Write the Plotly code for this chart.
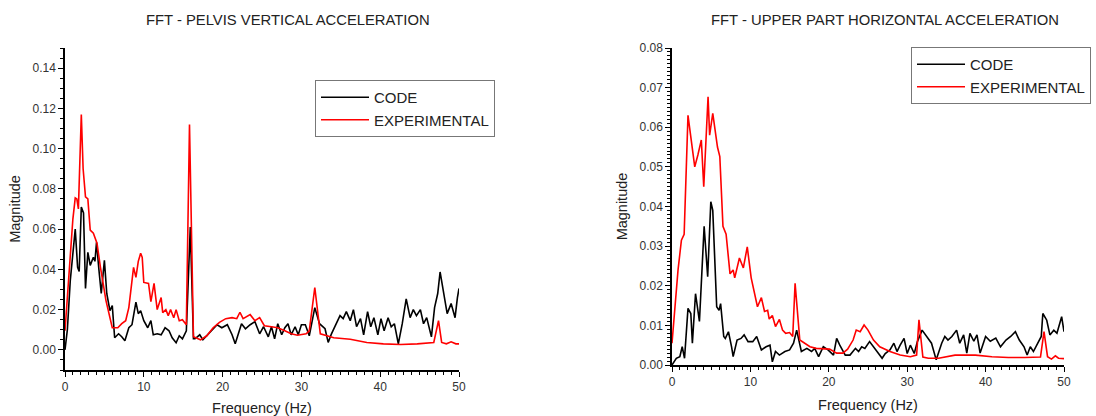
import plotly.graph_objects as go

# ---------------- data ----------------
pelvis_code_f = [0, 0.3, 0.67, 1.0, 1.3, 1.6, 1.8, 2.07, 2.35, 2.6,
                 2.9, 3.2, 3.6, 3.8, 4.0, 4.3, 4.6, 5.0, 5.3, 5.7,
                 6.0, 6.3, 6.8, 7.2, 7.6, 8.1, 8.5, 9.0, 9.3, 9.6,
                 10.0, 10.5, 10.9, 11.2, 11.7, 12.2, 12.7, 13.2, 13.6, 14.1,
                 14.5, 14.9, 15.4, 15.9, 16.3, 16.5, 17.1, 17.5, 18.1, 18.7,
                 19.3, 19.9, 20.6, 21.2, 21.6, 22.0, 22.4, 22.9, 23.5, 24.1,
                 24.7, 25.2, 25.8, 26.2, 26.6, 27.0, 27.5, 27.9, 28.3, 28.7,
                 29.2, 29.6, 30.0, 30.5, 31.0, 31.7, 32.3, 33.0, 33.4, 33.8,
                 34.9, 35.3, 35.7, 36.2, 36.6, 37.0, 37.5, 37.9, 38.4, 38.8,
                 39.2, 39.7, 40.1, 40.5, 41.0, 41.4, 41.8, 42.3, 42.8, 43.3,
                 43.8, 44.2, 44.6, 45.1, 45.5, 45.9, 46.5, 46.9, 47.3, 47.6,
                 48.1, 48.5, 49.0, 49.5, 49.8, 50.0]
pelvis_code_v = [0.0, 0.01, 0.0345, 0.05, 0.06, 0.041, 0.039, 0.071, 0.068, 0.0305,
                 0.0485, 0.042, 0.046, 0.044, 0.0535, 0.04, 0.028, 0.0445, 0.028, 0.0195,
                 0.022, 0.006, 0.008, 0.0065, 0.0045, 0.011, 0.0125, 0.0237, 0.018, 0.0195,
                 0.0145, 0.011, 0.0145, 0.0075, 0.008, 0.0075, 0.011, 0.0095, 0.006, 0.0035,
                 0.007, 0.0055, 0.0095, 0.061, 0.0055, 0.0055, 0.0075, 0.005, 0.0075, 0.01,
                 0.0125, 0.011, 0.0125, 0.0075, 0.003, 0.008, 0.013, 0.0105, 0.0125, 0.014,
                 0.008, 0.0115, 0.0065, 0.0115, 0.0055, 0.013, 0.0075, 0.011, 0.013, 0.0075,
                 0.0115, 0.0075, 0.0125, 0.0125, 0.007, 0.021, 0.013, 0.0105, 0.0037, 0.0078,
                 0.017, 0.0155, 0.019, 0.0145, 0.02, 0.0115, 0.0155, 0.0075, 0.019, 0.0115,
                 0.016, 0.0075, 0.0155, 0.0095, 0.016, 0.0115, 0.013, 0.003, 0.013, 0.0253,
                 0.016, 0.02, 0.017, 0.02, 0.013, 0.016, 0.0065, 0.021, 0.028, 0.0387,
                 0.028, 0.018, 0.023, 0.016, 0.026, 0.0305]

pelvis_exp_f = [0, 0.6, 1.0, 1.3, 1.5, 1.7, 2.07, 2.3, 2.6, 2.9,
                3.2, 3.6, 4.06, 4.5, 5.2, 6.0, 6.7, 7.2, 7.7, 8.1,
                8.4, 8.7, 9.0, 9.3, 9.6, 9.8, 10.0, 10.6, 10.9, 11.3,
                11.7, 12.2, 12.4, 12.8, 13.1, 13.4, 13.8, 14.1, 14.5, 14.9,
                15.4, 15.8, 16.3, 17.2, 18.0, 18.8, 19.6, 20.4, 21.2, 21.8,
                22.2, 22.6, 23.5, 24.1, 24.7, 25.3, 26.2, 27.0, 27.9, 28.7,
                29.5, 30.6, 31.0, 31.7, 32.4, 34.1, 36.2, 38.3, 40.4, 42.6,
                44.7, 46.8, 47.4, 47.8, 48.4, 49.0, 49.6, 50.0]
pelvis_exp_v = [0.0095, 0.045, 0.065, 0.0755, 0.075, 0.07, 0.117, 0.09, 0.076, 0.075,
                0.0595, 0.058, 0.053, 0.041, 0.0245, 0.011, 0.011, 0.013, 0.0145, 0.021,
                0.03, 0.041, 0.036, 0.044, 0.048, 0.046, 0.0335, 0.033, 0.024, 0.033,
                0.020, 0.026, 0.0185, 0.02, 0.017, 0.02, 0.016, 0.02, 0.0145, 0.015,
                0.0125, 0.112, 0.0065, 0.005, 0.007, 0.011, 0.0137, 0.0155, 0.016, 0.0155,
                0.0187, 0.0155, 0.0175, 0.0145, 0.016, 0.012, 0.0115, 0.011, 0.0095, 0.008,
                0.0073, 0.008, 0.0095, 0.031, 0.008, 0.006, 0.0053, 0.0037, 0.003, 0.0027,
                0.003, 0.0037, 0.0145, 0.0037, 0.003, 0.004, 0.003, 0.003]

upper_code_f = [0, 0.55, 1.0, 1.3, 1.6, 2.04, 2.4, 2.6, 3.0, 3.5,
                4.1, 4.55, 4.95, 5.2, 5.7, 6.0, 6.2, 6.6, 6.8, 7.2,
                7.6, 7.8, 8.3, 8.8, 9.2, 9.7, 10.3, 10.8, 11.4, 12.0,
                12.5, 12.8, 13.2, 13.7, 14.4, 15.0, 15.5, 15.9, 16.5, 17.2,
                17.8, 18.2, 18.7, 19.3, 19.9, 20.6, 21.0, 21.4, 22.1, 22.7,
                23.4, 23.8, 24.2, 24.6, 25.2, 25.7, 26.4, 26.8, 27.2, 27.8,
                28.3, 28.7, 29.1, 29.6, 30.0, 30.4, 30.9, 31.3, 31.9, 32.5,
                33.1, 33.7, 34.4, 34.8, 35.2, 35.7, 36.3, 36.7, 37.2, 37.6,
                38.0, 38.5, 38.9, 39.3, 40.0, 40.6, 41.3, 41.9, 42.6, 43.2,
                43.8, 44.3, 44.9, 45.3, 45.7, 46.1, 46.7, 47.1, 47.3, 47.8,
                48.2, 48.7, 49.1, 49.7, 50.0]
upper_code_v = [0.0, 0.0017, 0.0021, 0.0046, 0.0017, 0.0143, 0.013, 0.0055, 0.018, 0.011,
                0.035, 0.0223, 0.0412, 0.039, 0.0147, 0.0138, 0.0155, 0.0072, 0.0067, 0.0084,
                0.0046, 0.0021, 0.0063, 0.0067, 0.0076, 0.0059, 0.0059, 0.0072, 0.0038, 0.0046,
                0.005, 0.0008, 0.0034, 0.0025, 0.0034, 0.0038, 0.0055, 0.0088, 0.0034, 0.0042,
                0.0034, 0.0042, 0.0021, 0.0046, 0.0038, 0.0025, 0.0067, 0.005, 0.0025, 0.0025,
                0.0042, 0.0034, 0.0046, 0.0042, 0.0059, 0.0046, 0.0029, 0.0017, 0.0029, 0.0038,
                0.0055, 0.0034, 0.005, 0.0067, 0.0029, 0.005, 0.0029, 0.0059, 0.0088, 0.0072,
                0.0055, 0.0013, 0.0055, 0.0072, 0.0063, 0.0072, 0.0088, 0.0055, 0.0076, 0.003,
                0.008, 0.006, 0.0076, 0.003, 0.0072, 0.006, 0.0068, 0.0046, 0.0063, 0.0072,
                0.0084, 0.0063, 0.0046, 0.0025, 0.0046, 0.0034, 0.0055, 0.0072, 0.013, 0.0113,
                0.0076, 0.0088, 0.008, 0.0122, 0.0084]

upper_exp_f = [0, 0.77, 1.2, 1.55, 2.04, 2.7, 2.9, 3.3, 3.74, 4.05,
               4.6, 4.8, 5.2, 5.8, 6.1, 6.5, 6.9, 7.4, 7.8, 8.0,
               8.6, 9.1, 9.6, 10.1, 10.5, 10.9, 11.4, 11.8, 12.2, 12.4,
               12.8, 13.2, 13.7, 14.1, 14.5, 15.0, 15.4, 15.7, 16.3, 17.6,
               18.4, 19.3, 20.1, 21.0, 21.8, 22.4, 23.1, 23.5, 24.0, 24.5,
               25.0, 25.7, 26.5, 27.8, 29.1, 30.4, 31.2, 31.5, 32.0, 32.7,
               34.0, 36.1, 38.7, 40.8, 42.9, 45.0, 47.0, 47.45, 47.9, 48.4,
               48.9, 49.3, 50.0]
upper_exp_v = [0.0055, 0.024, 0.0315, 0.033, 0.063, 0.052, 0.050, 0.053, 0.0568, 0.045,
               0.0677, 0.058, 0.0635, 0.055, 0.0526, 0.035, 0.033, 0.023, 0.024, 0.022,
               0.027, 0.0245, 0.0298, 0.022, 0.018, 0.0147, 0.017, 0.0135, 0.0138, 0.0116,
               0.0125, 0.0097, 0.0115, 0.0088, 0.008, 0.0082, 0.0072, 0.0206, 0.0063, 0.0046,
               0.0042, 0.004, 0.004, 0.003, 0.003, 0.004, 0.0063, 0.0088, 0.0084, 0.0101,
               0.0088, 0.0063, 0.0046, 0.0034, 0.0025, 0.0021, 0.0025, 0.0114, 0.002, 0.0017,
               0.0017, 0.0025, 0.0025, 0.0021, 0.0019, 0.0019, 0.002, 0.0084, 0.0021, 0.0015,
               0.0023, 0.0017, 0.0016]

titles = ["FFT - PELVIS VERTICAL ACCELERATION", "FFT - UPPER PART HORIZONTAL ACCELERATION"]
series_names = ["CODE", "EXPERIMENTAL"]
x_title = "Frequency (Hz)"
y_title = "Magnitude"

# ---------------- figure ----------------
W, H = 1096, 416
FONT = "Liberation Sans, Arial, sans-serif"
TXT = "#222222"

fig = go.Figure()
fig.add_trace(go.Scatter(x=pelvis_code_f, y=pelvis_code_v, name=series_names[0], mode="lines",
                         line=dict(color="#000000", width=1.6), xaxis="x", yaxis="y", legend="legend"))
fig.add_trace(go.Scatter(x=pelvis_exp_f, y=pelvis_exp_v, name=series_names[1], mode="lines",
                         line=dict(color="#ff0000", width=1.6), xaxis="x", yaxis="y", legend="legend"))
fig.add_trace(go.Scatter(x=upper_code_f, y=upper_code_v, name=series_names[0], mode="lines",
                         line=dict(color="#000000", width=1.6), xaxis="x2", yaxis="y2", legend="legend2"))
fig.add_trace(go.Scatter(x=upper_exp_f, y=upper_exp_v, name=series_names[1], mode="lines",
                         line=dict(color="#ff0000", width=1.6), xaxis="x2", yaxis="y2", legend="legend2"))


def px_x(p):
    return p / W


def px_y(p):
    return 1 - p / H


axis_common = dict(showline=True, linecolor="#000000", linewidth=1.5, mirror=False,
                   ticks="outside", ticklen=5, tickwidth=1.3, tickcolor="#000000",
                   showgrid=False, zeroline=False, automargin=False,
                   tickfont=dict(family=FONT, size=12, color="#333333"),
                   title_font=dict(family=FONT, size=14.5, color=TXT))

legend_common = dict(xanchor="left", yanchor="top",
                     bordercolor="#777777", borderwidth=1, bgcolor="white",
                     font=dict(family=FONT, size=15, color=TXT), tracegroupgap=0,
                     itemwidth=48)

fig.update_layout(
    width=W, height=H, autosize=False,
    margin=dict(l=0, r=0, t=0, b=0, autoexpand=False),
    paper_bgcolor="white", plot_bgcolor="white",
    font=dict(family=FONT, color=TXT),
    xaxis=dict(domain=[px_x(65), px_x(459)], anchor="y", range=[0, 50], dtick=10, tick0=0,
               minor=dict(dtick=1, ticks="outside", ticklen=3, tickcolor="#000000", showgrid=False),
               title=dict(text=x_title, standoff=12), **axis_common),
    yaxis=dict(domain=[px_y(370), px_y(48)], anchor="x", range=[-0.01, 0.15], dtick=0.02, tick0=0,
               tickformat=".2f",
               minor=dict(dtick=0.005, ticks="outside", ticklen=3, tickcolor="#000000", showgrid=False),
               title=dict(text=y_title, standoff=8), **axis_common),
    xaxis2=dict(domain=[px_x(672), px_x(1064)], anchor="y2", range=[0, 50], dtick=10, tick0=0,
                minor=dict(dtick=1, ticks="outside", ticklen=3, tickcolor="#000000", showgrid=False),
                title=dict(text=x_title, standoff=12), **axis_common),
    yaxis2=dict(domain=[px_y(365), px_y(48)], anchor="x2", range=[0, 0.08], dtick=0.01, tick0=0,
                tickformat=".2f",
                minor=dict(dtick=0.001, ticks="outside", ticklen=3, tickcolor="#000000", showgrid=False),
                title=dict(text=y_title, standoff=8), **axis_common),
    legend=dict(x=px_x(315), y=px_y(80), **legend_common),
    legend2=dict(x=px_x(911), y=px_y(47), **legend_common),
    showlegend=True,
    annotations=[
        dict(text=titles[0], x=px_x(288), y=px_y(20), xref="paper", yref="paper",
             xanchor="center", yanchor="middle", showarrow=False,
             font=dict(family=FONT, size=14.8, color=TXT)),
        dict(text=titles[1], x=px_x(885), y=px_y(20), xref="paper", yref="paper",
             xanchor="center", yanchor="middle", showarrow=False,
             font=dict(family=FONT, size=14.8, color=TXT)),
    ],
)

fig.write_html("out.html")
